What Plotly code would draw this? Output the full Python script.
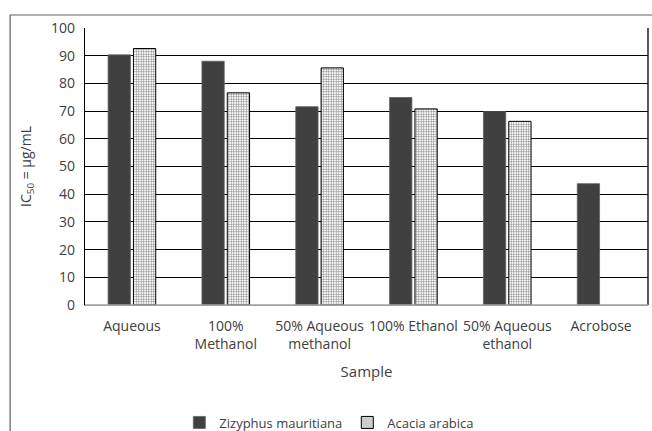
import plotly.graph_objects as go

categories = ["Aqueous", "100%<br>Methanol", "50% Aqueous<br>methanol", "100% Ethanol", "50% Aqueous<br>ethanol", "Acrobose"]
zizyphus = [90.3, 88.0, 71.6, 74.9, 69.8, 43.8]
acacia = [92.6, 76.6, 85.6, 70.8, 66.3, None]
yticks = [0, 10, 20, 30, 40, 50, 60, 70, 80, 90, 100]

FONT = "Open Sans"
fig = go.Figure()
fig.add_trace(go.Bar(x=categories, y=zizyphus, name="Zizyphus mauritiana",
                     marker=dict(color="#404040", line=dict(color="#606060", width=0.8))))
fig.add_trace(go.Bar(x=categories, y=acacia, name="Acacia arabica",
                     marker=dict(color="white", line=dict(color="black", width=1),
                                 pattern=dict(shape="+", fgcolor="#202020", bgcolor="white",
                                              size=2.5, solidity=0.45))))

fig.update_layout(
    width=652, height=431,
    margin=dict(l=85, r=4, t=28, b=126, autoexpand=False),
    paper_bgcolor="white", plot_bgcolor="white",
    font=dict(family=FONT, size=14, color="#404040"),
    barmode="group", bargap=0.46, bargroupgap=0.12,
    showlegend=True,
    legend=dict(orientation="h", x=0.434, xanchor="center", y=-0.37, yanchor="top",
                font=dict(size=13, color="#404040"), itemwidth=30, tracegroupgap=0),
    xaxis=dict(showline=True, linecolor="#a0a0a0", linewidth=1, mirror=False, automargin=False,
               tickfont=dict(size=14), ticks="", ticklabelstandoff=8, tickangle=0,
               title=dict(text="Sample", font=dict(size=15), standoff=14)),
    yaxis=dict(range=[0, 100], tickvals=yticks, showgrid=True, gridcolor="black", gridwidth=1.3,
               showline=True, linecolor="black", linewidth=1.3, ticks="", automargin=False,
               tickfont=dict(size=14), zeroline=False, ticklabelstandoff=6,
               title=dict(text="IC<sub>50</sub> = µg/mL", font=dict(size=14), standoff=16)),
)
# right plot border and baseline
fig.add_shape(type="line", xref="paper", yref="paper", x0=1, x1=1, y0=0, y1=1,
              line=dict(color="black", width=1.3))
fig.add_shape(type="line", xref="paper", yref="paper", x0=0, x1=1, y0=0, y1=0,
              line=dict(color="#a0a0a0", width=1.3))
# outer chart border
fig.add_shape(type="rect", xref="paper", yref="paper", x0=-0.133, x1=1.3, y0=-0.7, y1=1.047,
              line=dict(color="#606060", width=1.2), layer="below")

fig.write_html("out.html", config={"displayModeBar": False},
               post_script="document.body.style.margin='0px';")
